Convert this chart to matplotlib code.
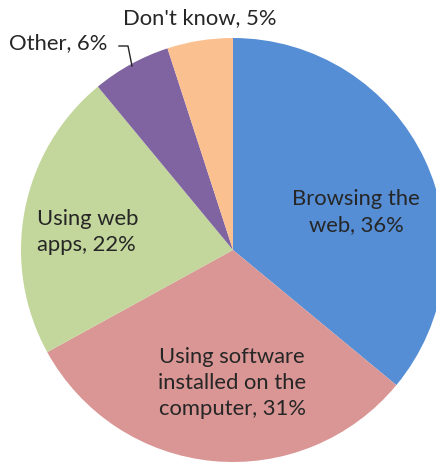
import matplotlib
matplotlib.use("Agg")
import matplotlib.pyplot as plt

categories = ["Browsing the\nweb", "Using software\ninstalled on the\ncomputer", "Using web\napps", "Other", "Don't know"]
shares = [36, 31, 22, 6, 5]
colors = ["#558ED5", "#D99694", "#C3D69B", "#8064A2", "#FAC090"]

W, H = 436, 464
fig = plt.figure(figsize=(W / 100, H / 100), dpi=100)
ax = fig.add_axes([0, 0, 1, 1])

cx, cy, r = 233, H - 251, 212
ax.pie(shares, colors=colors, startangle=90, counterclock=False,
       center=(cx, cy), radius=r, wedgeprops=dict(linewidth=0))
ax.set_xlim(0, W)
ax.set_ylim(0, H)
ax.set_aspect("equal")
ax.axis("off")

font = dict(family="Lato", fontsize=15.8, color="#262626")
labels = [f"{c}, {v}%" for c, v in zip(categories, shares)]
ls = 1.4

ax.text(356, H - 212, labels[0], ha="center", va="center", linespacing=ls, **font)
ax.text(232, H - 383, labels[1], ha="center", va="center", linespacing=ls, **font)
ax.text(37, H - 232, labels[2], ha="left", va="center", linespacing=ls, **font)
ax.text(9, H - 43, labels[3], ha="left", va="center", **font)
ax.text(123, H - 18, labels[4], ha="left", va="center", **font)

# leader line for the small "Other" slice
ax.plot([119, 128, 132], [H - 47, H - 47, H - 67], color="#262626", lw=1)

fig.savefig("out.png", dpi=100)
